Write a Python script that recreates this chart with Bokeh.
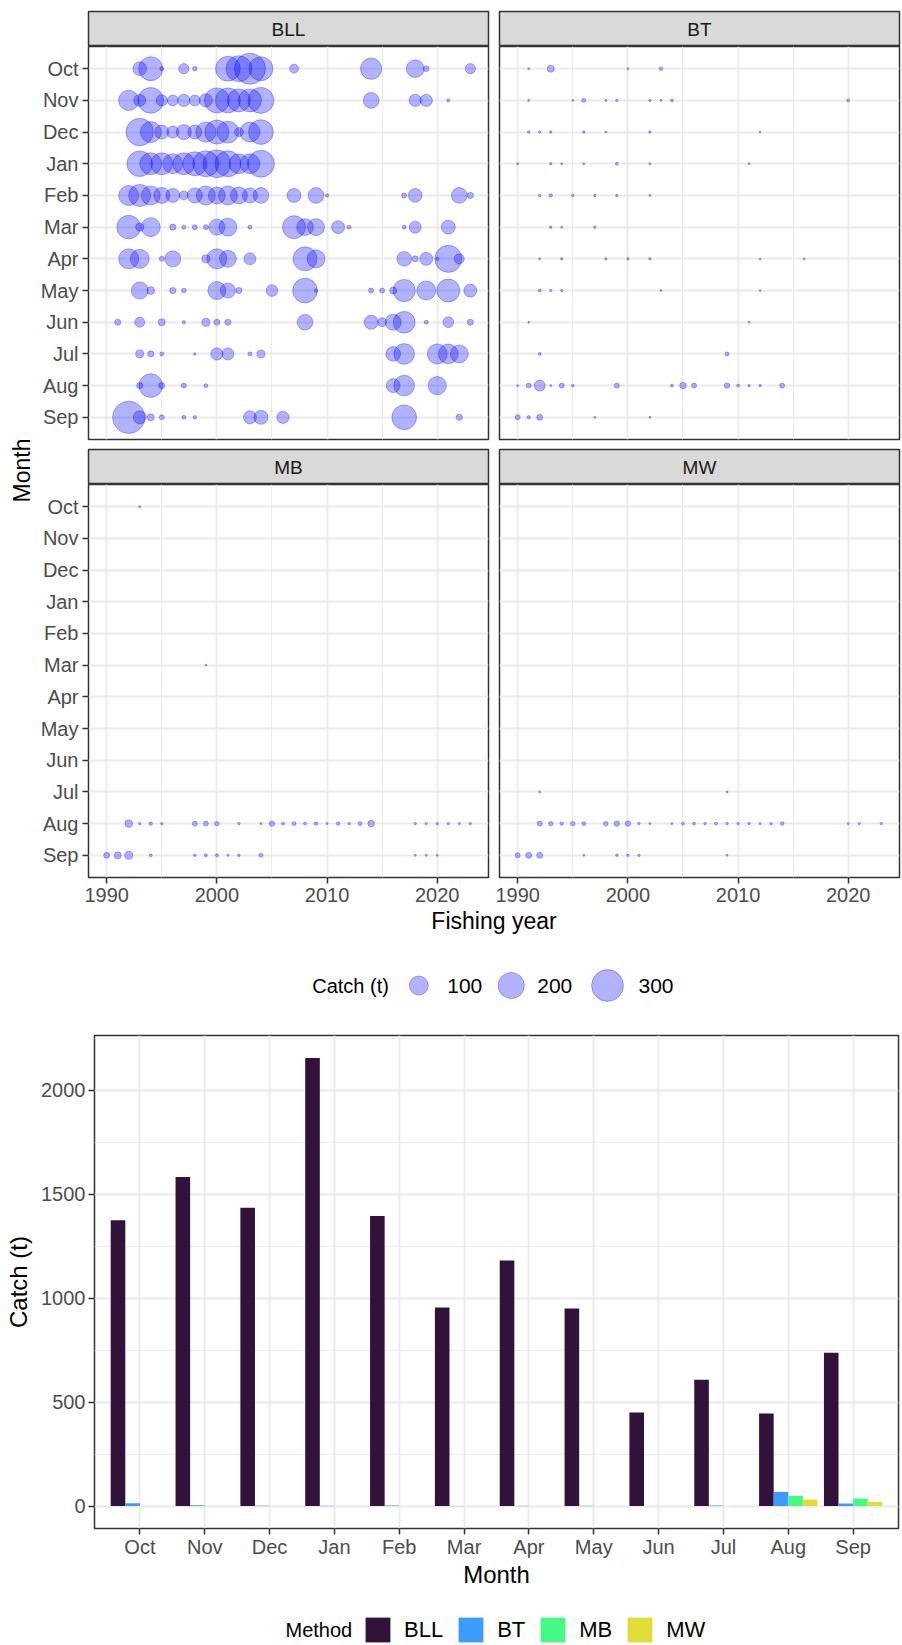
import math
from bokeh.plotting import figure
from bokeh.layouts import row, column
from bokeh.models import (ColumnDataSource, Range1d, FactorRange, FixedTicker,
                          CategoricalTicker, Legend, LegendItem)
from bokeh.transform import dodge
from bokeh.core.properties import value
from bokeh.embed import file_html
from bokeh.resources import INLINE

# ---------------- data ----------------
MONTHS = ["Oct", "Nov", "Dec", "Jan", "Feb", "Mar", "Apr", "May", "Jun", "Jul", "Aug", "Sep"]
METHODS = ["BLL", "BT", "MB", "MW"]
YEAR_TICKS = [1990, 2000, 2010, 2020]
YEAR_MINOR = [1995, 2005, 2015]
LEGEND_CATCH = [100, 200, 300]

bll_years = {
    "Oct": [1993, 1994, 1995, 1997, 1998, 2001, 2002, 2003, 2004, 2007, 2014, 2018, 2019, 2023],
    "Nov": [1992, 1993, 1994, 1995, 1996, 1997, 1998, 1999, 2000, 2001, 2002, 2003, 2004, 2014, 2018, 2019, 2021],
    "Dec": [1993, 1994, 1995, 1996, 1997, 1998, 1999, 2000, 2001, 2002, 2003, 2004],
    "Jan": [1993, 1994, 1995, 1996, 1997, 1998, 1999, 2000, 2001, 2002, 2003, 2004],
    "Feb": [1992, 1993, 1994, 1995, 1996, 1997, 1998, 1999, 2000, 2001, 2002, 2003, 2004, 2007, 2009, 2010, 2017, 2018, 2022, 2023],
    "Mar": [1992, 1993, 1994, 1996, 1997, 1998, 1999, 2000, 2001, 2003, 2007, 2008, 2009, 2011, 2012, 2017, 2018, 2021],
    "Apr": [1992, 1993, 1995, 1996, 1999, 2000, 2001, 2003, 2008, 2009, 2017, 2018, 2019, 2020, 2021, 2022],
    "May": [1993, 1994, 1996, 1997, 2000, 2001, 2002, 2005, 2008, 2009, 2014, 2015, 2016, 2017, 2019, 2021, 2023],
    "Jun": [1991, 1993, 1995, 1997, 1999, 2000, 2001, 2008, 2014, 2015, 2016, 2017, 2019, 2021, 2023],
    "Jul": [1993, 1994, 1995, 1998, 2000, 2001, 2003, 2004, 2016, 2017, 2020, 2021, 2022],
    "Aug": [1993, 1994, 1995, 1997, 1999, 2016, 2017, 2020],
    "Sep": [1992, 1993, 1994, 1995, 1997, 1998, 2003, 2004, 2006, 2017, 2022],
}
bll_catch = {
    "Oct": [49, 165, 2, 25, 3, 176, 196, 284, 165, 18, 128, 86, 6, 25],
    "Nov": [115, 36, 191, 31, 28, 38, 29, 45, 180, 180, 151, 151, 196, 66, 38, 38, 1],
    "Dec": [220, 124, 51, 36, 60, 51, 115, 165, 135, 18, 112, 175],
    "Jan": [190, 135, 135, 110, 135, 165, 195, 225, 195, 110, 110, 210],
    "Feb": [112, 137, 100, 69, 51, 18, 60, 100, 78, 100, 78, 60, 66, 51, 66, 1, 4, 49, 66, 7],
    "Mar": [161, 14, 100, 7, 2, 4, 4, 69, 89, 2, 151, 75, 78, 43, 2, 2, 36, 51],
    "Apr": [112, 100, 4, 69, 14, 112, 78, 36, 165, 89, 57, 7, 43, 1, 212, 24],
    "May": [78, 13, 7, 3, 89, 60, 7, 34, 176, 1, 4, 4, 10, 141, 100, 151, 43],
    "Jun": [7, 24, 10, 1, 14, 7, 7, 66, 51, 18, 69, 133, 2, 28, 7],
    "Jul": [14, 7, 2, 0.3, 38, 36, 2, 14, 57, 120, 112, 108, 89],
    "Aug": [7, 161, 7, 4, 2, 51, 120, 92],
    "Sep": [310, 43, 10, 4, 2, 1.3, 43, 51, 38, 176, 7],
}

bt_years = {
    "Oct": [1991, 1993, 2000, 2003],
    "Nov": [1991, 1995, 1996, 1998, 1999, 2002, 2003, 2004, 2020],
    "Dec": [1991, 1992, 1993, 1996, 1998, 2002, 2012],
    "Jan": [1990, 1993, 1994, 1996, 1999, 2002, 2011],
    "Feb": [1992, 1993, 1995, 1997, 1999, 2002],
    "Mar": [1993, 1994, 1997],
    "Apr": [1992, 1994, 1998, 2000, 2002, 2012, 2016],
    "May": [1992, 1993, 1994, 2003, 2012],
    "Jun": [1991, 2011],
    "Jul": [1992, 2009],
    "Aug": [1990, 1991, 1992, 1993, 1994, 1995, 1999, 2004, 2005, 2006, 2009, 2010, 2011, 2012, 2014],
    "Sep": [1990, 1991, 1992, 1997, 2002],
}
bt_catch = {
    "Oct": [0.1, 10, 0.1, 1.3],
    "Nov": [0.1, 0.1, 2, 0.1, 0.3, 0.3, 0.1, 0.7, 0.7],
    "Dec": [0.3, 0.3, 0.3, 0.3, 0.1, 0.3, 0.05],
    "Jan": [0.1, 0.3, 0.1, 0.1, 0.7, 0.1, 0.1],
    "Feb": [0.3, 1.3, 0.3, 0.3, 0.3, 0.1],
    "Mar": [0.3, 0.1, 0.3],
    "Apr": [0.1, 0.3, 0.3, 0.3, 0.3, 0.05, 0.05],
    "May": [0.7, 0.3, 0.3, 0.1, 0.05],
    "Jun": [0.05, 0.05],
    "Jul": [0.7, 2],
    "Aug": [0.05, 4, 29.5, 0.1, 4, 0.7, 4, 0.7, 8.2, 4, 5.2, 0.7, 0.3, 0.3, 4],
    "Sep": [4, 1.3, 6.6, 0.1, 0.1],
}

mb_years = {
    "Oct": [1993],
    "Mar": [1999],
    "Aug": [1992, 1993, 1994, 1995, 1998, 1999, 2000, 2002, 2004, 2005, 2006, 2007, 2008, 2009, 2010,
            2011, 2012, 2013, 2014, 2018, 2019, 2020, 2021, 2022, 2023],
    "Sep": [1990, 1991, 1992, 1994, 1998, 1999, 2000, 2001, 2002, 2004, 2018, 2019, 2020],
}
mb_catch = {
    "Oct": [0.1],
    "Mar": [0.05],
    "Aug": [11.8, 0.3, 1.3, 0.3, 4, 4, 2.9, 0.3, 0.1, 5.2, 0.7, 2, 0.7, 1.3, 0.1,
            1.3, 0.3, 2, 8.2, 0.3, 0.3, 0.3, 0.3, 0.1, 0.3],
    "Sep": [6.6, 9.9, 13.8, 0.7, 0.3, 0.7, 0.7, 0.1, 0.3, 2, 0.1, 0.1, 0.1],
}

mw_years = {
    "Jul": [1992, 2009],
    "Aug": [1992, 1993, 1994, 1995, 1996, 1998, 1999, 2000, 2001, 2002, 2004, 2005, 2006, 2007, 2008,
            2009, 2010, 2011, 2012, 2013, 2014, 2020, 2021, 2023],
    "Sep": [1990, 1991, 1992, 1996, 1999, 2000, 2001, 2009],
}
mw_catch = {
    "Jul": [0.05, 0.1],
    "Aug": [4, 2.9, 1.3, 2.9, 2, 2.9, 5.2, 5.2, 0.3, 0.1, 0.1, 0.7, 0.7, 0.3, 0.7,
            0.3, 0.3, 0.3, 0.1, 0.3, 1.3, 0.1, 0.3, 0.3],
    "Sep": [4, 6.6, 6.6, 0.1, 0.3, 0.3, 0.3, 0.1],
}

# monthly totals by method (bar chart), in MONTHS order
bar_bll = [1375, 1582, 1434, 2155, 1395, 955, 1181, 950, 450, 608, 445, 737]
bar_bt = [14, 4, 2, 1.5, 2.6, 0.7, 1.1, 1.5, 0.1, 2.7, 68, 12]
bar_mb = [0.1, 0, 0, 0, 0, 0.05, 0, 0, 0, 0, 48, 36]
bar_mw = [0, 0, 0, 0, 0, 0, 0, 0, 0, 0.15, 32, 20]

METHOD_COLORS = ["#30123B", "#3E9BFE", "#46F884", "#E1DD37"]

# ---------------- style ----------------
FONT = "Liberation Sans"
GRID = "#EBEBEB"
BORDER = "#333333"
TICKTXT = "#4D4D4D"
BUBBLE = "blue"
TICK_FS = "20px"
TITLE_FS = "23px"


def bubble_size(c):
    # area-type size scale (screen px diameter)
    return 1.5 + 1.75 * math.sqrt(c)


panel_data = {"BLL": (bll_years, bll_catch), "BT": (bt_years, bt_catch),
              "MB": (mb_years, mb_catch), "MW": (mw_years, mw_catch)}

all_years = [y for yrs, _ in panel_data.values() for m in yrs for y in yrs[m]]
x_lo, x_hi = min(all_years), max(all_years)
x_pad = 0.05 * (x_hi - x_lo)

FW, FH, SH = 400, 393, 35


def style_axis(ax):
    ax.axis_line_color = None
    ax.major_tick_line_color = BORDER
    ax.major_tick_line_width = 1.5
    ax.major_tick_out = 6
    ax.major_tick_in = 0
    ax.minor_tick_line_color = None
    ax.major_label_text_font = FONT
    ax.major_label_text_font_size = TICK_FS
    ax.major_label_text_color = TICKTXT


def make_strip(label, mbl, mbr, mbt):
    s = figure(width=mbl + FW + mbr, height=mbt + SH,
               x_range=Range1d(0, 1), y_range=Range1d(0, 1),
               x_axis_location=None, y_axis_location=None,
               toolbar_location=None, output_backend="svg", frame_align=False,
               min_border_left=mbl, min_border_right=mbr, min_border_top=mbt, min_border_bottom=0,
               background_fill_color="#D9D9D9", outline_line_color=BORDER, outline_line_width=1.5)
    s.xgrid.visible = False
    s.ygrid.visible = False
    s.text(x=[0.5], y=[0.5], text=[label], text_align="center", text_baseline="middle",
           text_font=value(FONT), text_font_size="19px", text_color="#1A1A1A")
    return s


def make_panel(method, show_x, show_y, mbl, mbr, mbt, mbb):
    p = figure(width=mbl + FW + mbr, height=mbt + FH + mbb,
               x_range=Range1d(x_lo - x_pad, x_hi + x_pad),
               y_range=FactorRange(factors=list(reversed(MONTHS)), range_padding=0.2,
                                   range_padding_units="absolute"),
               x_axis_location="below" if show_x else None,
               y_axis_location="left" if show_y else None,
               toolbar_location=None, output_backend="svg", frame_align=False,
               min_border_left=mbl, min_border_right=mbr, min_border_top=mbt, min_border_bottom=mbb,
               outline_line_color=BORDER, outline_line_width=1.5)
    xg = p.xgrid[0]
    xg.ticker = FixedTicker(ticks=YEAR_TICKS, minor_ticks=YEAR_MINOR)
    xg.grid_line_color = GRID
    xg.grid_line_width = 2
    xg.minor_grid_line_color = GRID
    xg.minor_grid_line_width = 1
    yg = p.ygrid[0]
    yg.ticker = CategoricalTicker()
    yg.grid_line_color = GRID
    yg.grid_line_width = 2
    if show_x:
        ax = p.xaxis[0]
        ax.ticker = FixedTicker(ticks=YEAR_TICKS)
        style_axis(ax)
        ax.major_label_standoff = 4
    if show_y:
        ay = p.yaxis[0]
        style_axis(ay)
        ay.major_label_standoff = 4

    yrs, cat = panel_data[method]
    xs, ys, ss = [], [], []
    for m in MONTHS:
        for yv, cv in zip(yrs.get(m, []), cat.get(m, [])):
            xs.append(yv)
            ys.append(m)
            ss.append(bubble_size(cv))
    src = ColumnDataSource(dict(year=xs, month=ys, size=ss))
    p.scatter(x="year", y="month", size="size", source=src, marker="circle",
              fill_color=BUBBLE, fill_alpha=0.3, line_color=BUBBLE, line_alpha=0.3, line_width=1)
    return p


# columns: y-title 0..36, left panels 36..493, right panels 493..902
YL_W = 36
L_MBL, L_MBR = 52, 5
R_MBL, R_MBR = 6, 3
TOP_B = 11

strip_bll = make_strip("BLL", L_MBL, L_MBR, TOP_B)
pan_bll = make_panel("BLL", False, True, L_MBL, L_MBR, 0, 5)
strip_mb = make_strip("MB", L_MBL, L_MBR, 5)
pan_mb = make_panel("MB", True, True, L_MBL, L_MBR, 0, 32)

strip_bt = make_strip("BT", R_MBL, R_MBR, TOP_B)
pan_bt = make_panel("BT", False, False, R_MBL, R_MBR, 0, 5)
strip_mw = make_strip("MW", R_MBL, R_MBR, 5)
pan_mw = make_panel("MW", True, False, R_MBL, R_MBR, 0, 32)

TOP_H = (TOP_B + SH) + (FH + 5) + (5 + SH) + (FH + 32)
TOTAL_W = YL_W + (L_MBL + FW + L_MBR) + (R_MBL + FW + R_MBR)


def blank(width, height):
    f = figure(width=width, height=height, x_range=Range1d(0, width), y_range=Range1d(0, height),
               x_axis_location=None, y_axis_location=None, toolbar_location=None,
               output_backend="svg", frame_align=False, min_border=0, outline_line_color=None)
    f.xgrid.visible = False
    f.ygrid.visible = False
    return f


# shared y title for the facets (centred on the panel rows)
ylab = blank(YL_W, TOP_H)
ylab.text(x=[21], y=[TOP_H - 470], text=["Month"], angle=math.pi / 2, text_align="center",
          text_baseline="middle", text_font=value(FONT), text_font_size=TITLE_FS, text_color="black")

# shared x title
xlab = blank(TOTAL_W, 28)
xlab.text(x=[493.5], y=[17], text=["Fishing year"], text_align="center", text_baseline="middle",
          text_font=value(FONT), text_font_size=TITLE_FS, text_color="black")

# bubble size legend
bleg = blank(TOTAL_W, 93)
leg_key_x = [418.3, 510.7, 607.0]
leg_lab_x = [446.7, 536.7, 638.0]
bleg.text(x=[311.7], y=[45], text=["Catch (t)"], text_align="left", text_baseline="middle",
          text_font=value(FONT), text_font_size="20px", text_color="black")
bleg.scatter(x=leg_key_x, y=[45] * 3, size=[bubble_size(c) for c in LEGEND_CATCH], marker="circle",
             fill_color=BUBBLE, fill_alpha=0.3, line_color=BUBBLE, line_alpha=0.3, line_width=1)
bleg.text(x=leg_lab_x, y=[45] * 3, text=[str(c) for c in LEGEND_CATCH], text_align="left",
          text_baseline="middle", text_font=value(FONT), text_font_size="21px", text_color="black")

# ---------------- bar chart ----------------
bar_vals = {"BLL": bar_bll, "BT": bar_bt, "MB": bar_mb, "MW": bar_mw}
ymax = max(max(v) for v in bar_vals.values())
ypad = 0.05 * ymax

bar = figure(width=TOTAL_W, height=5 + 493 + 64,
             x_range=FactorRange(factors=MONTHS, range_padding=0.2, range_padding_units="absolute"),
             y_range=Range1d(-ypad, ymax + ypad),
             toolbar_location=None, output_backend="svg", frame_align=False,
             min_border_left=94, min_border_right=4, min_border_top=5, min_border_bottom=64,
             outline_line_color=BORDER, outline_line_width=1.5)
bsrc = ColumnDataSource(dict(month=MONTHS, **bar_vals))
BAR_W = 0.9 / len(METHODS)
for i, (m, c) in enumerate(zip(METHODS, METHOD_COLORS)):
    off = -0.45 + BAR_W * (i + 0.5)
    bar.vbar(x=dodge("month", off, range=bar.x_range), top=m, bottom=0, width=BAR_W, source=bsrc,
             fill_color=c, line_color=None)

bar.yaxis[0].ticker = FixedTicker(ticks=[0, 500, 1000, 1500, 2000], minor_ticks=[250, 750, 1250, 1750, 2250])
for ax in (bar.xaxis[0], bar.yaxis[0]):
    style_axis(ax)
    ax.axis_label_text_font = FONT
    ax.axis_label_text_font_size = "24px"
    ax.axis_label_text_font_style = "normal"
    ax.axis_label_text_color = "black"
bar.xaxis[0].axis_label = "Month"
bar.xaxis[0].major_label_standoff = 1
bar.xaxis[0].axis_label_standoff = 0
bar.yaxis[0].axis_label = "Catch (t)"
bar.yaxis[0].major_label_standoff = 3
bar.yaxis[0].axis_label_standoff = 6
bar.xgrid.grid_line_color = GRID
bar.xgrid.grid_line_width = 2
bar.ygrid.grid_line_color = GRID
bar.ygrid.grid_line_width = 2
bar.ygrid.minor_grid_line_color = GRID
bar.ygrid.minor_grid_line_width = 1

# method legend (legend-only renderers sit outside the visible range)
meth = blank(TOTAL_W, 52)
items = []
for m, c in zip(METHODS, METHOD_COLORS):
    r = meth.vbar(x=[-50], top=[-60], bottom=[-70], width=1, fill_color=c, line_color=None)
    items.append(LegendItem(label=m, renderers=[r]))
legend = Legend(items=items, orientation="horizontal", location=(362, -1),
                glyph_width=31, glyph_height=31, label_standoff=11, spacing=12,
                padding=0, margin=0, border_line_color=None, background_fill_alpha=0,
                label_text_font=FONT, label_text_font_size="22px", label_text_color="black")
meth.add_layout(legend)
meth.text(x=[285], y=[14.5], text=["Method"], text_align="left", text_baseline="middle",
          text_font=value(FONT), text_font_size="20px", text_color="black")

left_col = column(strip_bll, pan_bll, strip_mb, pan_mb)
right_col = column(strip_bt, pan_bt, strip_mw, pan_mw)
top = row(ylab, left_col, right_col)
page = column(top, xlab, bleg, bar, meth)

open("out.html", "w").write(file_html(page, INLINE))
